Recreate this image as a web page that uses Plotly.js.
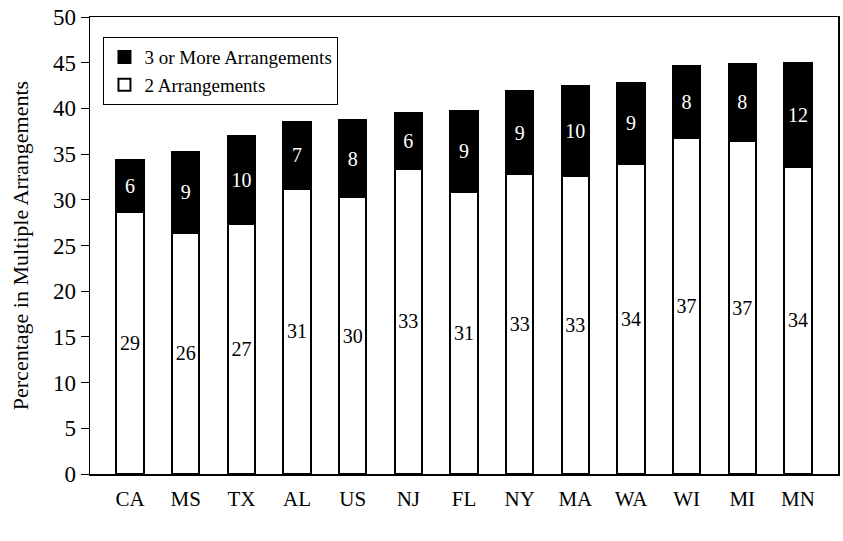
<!DOCTYPE html>
<html>
<head>
<meta charset="utf-8">
<script src="https://cdn.plot.ly/plotly-3.0.1.min.js"></script>
<style>html,body{margin:0;padding:0;background:#fff;}#chart{width:843px;height:541px;}</style>
</head>
<body>
<div id="chart"></div>
<script>
const states = ["CA","MS","TX","AL","US","NJ","FL","NY","MA","WA","WI","MI","MN"];
const twoArr = [28.7, 26.4, 27.4, 31.2, 30.3, 33.4, 30.9, 32.8, 32.6, 33.9, 36.8, 36.4, 33.6];
const threeArr = [5.7, 8.8, 9.6, 7.3, 8.4, 6.1, 8.8, 9.1, 9.9, 8.9, 7.8, 8.5, 11.4];
const twoLabels = ["29","26","27","31","30","33","31","33","33","34","37","37","34"];
const threeLabels = ["6","9","10","7","8","6","9","9","10","9","8","8","12"];

const serif = "Liberation Serif";

const data = [
  {
    type: "bar", name: "2 Arrangements", x: states, y: twoArr,
    text: twoLabels, textposition: "inside", insidetextanchor: "middle",
    textfont: {family: serif, size: 20, color: "#000"},
    marker: {color: "#fff", line: {color: "#000", width: 2}},
    hoverinfo: "none"
  },
  {
    type: "bar", name: "3 or More Arrangements", x: states, y: threeArr,
    text: threeLabels, textposition: "inside", insidetextanchor: "middle",
    textfont: {family: serif, size: 20, color: "#fff"},
    marker: {color: "#000", line: {color: "#000", width: 2}},
    hoverinfo: "none"
  }
];

const layout = {
  width: 843, height: 541,
  margin: {l: 90, r: 5, t: 17, b: 67},
  paper_bgcolor: "#fff", plot_bgcolor: "#fff",
  barmode: "stack",
  bargap: 0.51,
  font: {family: serif, color: "#000"},
  showlegend: true,
  uniformtext: {mode: "show", minsize: 10},
  legend: {
    x: 0.018, y: 0.956, xanchor: "left", yanchor: "top",
    bgcolor: "#fff", bordercolor: "#000", borderwidth: 1,
    font: {family: serif, size: 19, color: "#000"},
    traceorder: "reversed",
    itemwidth: 30, tracegroupgap: 0
  },
  xaxis: {
    type: "category",
    range: [-0.72, 12.72],
    showline: true, linecolor: "#000", linewidth: 1.5, mirror: true,
    ticks: "", showgrid: false, zeroline: false,
    tickfont: {family: serif, size: 21, color: "#000"},
    ticklabelstandoff: 5
  },
  yaxis: {
    range: [0, 50], dtick: 5,
    showline: true, linecolor: "#000", linewidth: 1.5, mirror: true,
    ticks: "outside", ticklen: 8, tickcolor: "#000", tickwidth: 1,
    showgrid: false, zeroline: false,
    tickfont: {family: serif, size: 23, color: "#000"},
    title: {text: "Percentage in Multiple Arrangements", font: {family: serif, size: 22, color: "#000"}, standoff: 18}
  }
};

Plotly.newPlot("chart", data, layout, {displayModeBar: false, staticPlot: true});
</script>
</body>
</html>
